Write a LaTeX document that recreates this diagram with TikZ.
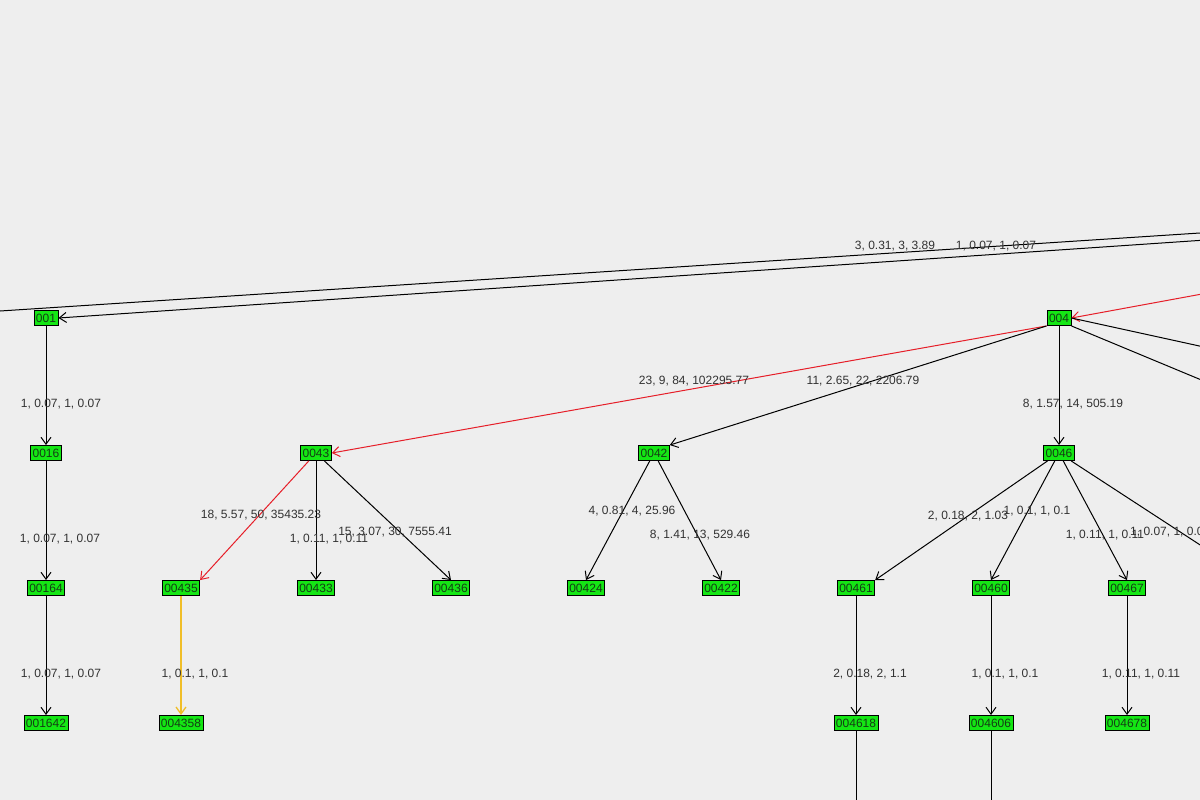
\documentclass[tikz,border=0pt]{standalone}
\usepackage{fontspec}
\setmainfont{Liberation Sans}
\usetikzlibrary{arrows.meta}
\definecolor{bg}{RGB}{238,238,238}
\definecolor{nodegreen}{RGB}{20,230,20}
\definecolor{edgered}{RGB}{230,30,40}
\definecolor{edgeyellow}{RGB}{240,190,40}
\definecolor{lbl}{RGB}{50,50,50}
\definecolor{ntext}{RGB}{20,60,20}
\begin{document}
\begin{tikzpicture}[x=1pt,y=-1pt,
  nd/.style={draw=black,line width=0.9pt,fill=nodegreen,inner xsep=2pt,inner ysep=0pt,minimum height=15pt,font=\fontsize{12}{12}\selectfont,text=ntext},
  ed/.style={draw=black,line width=1pt,-{Straight Barb[length=7pt,width=10pt]}},
  redge/.style={draw=edgered},
  yedge/.style={draw=edgeyellow,line width=1.3pt},
  pl/.style={draw=black,line width=1pt},
  lb/.style={font=\fontsize{12}{12}\selectfont,text=lbl,inner sep=0pt}]
\fill[bg] (0,0) rectangle (1200,800);
\useasboundingbox (0,0) rectangle (1200,800);
\clip (0,0) rectangle (1200,800);
% nodes
\node[nd] (n001) at (46,318) {001};
\node[nd] (n004) at (1059,318) {004};
\node[nd] (n0016) at (46,453) {0016};
\node[nd] (n0043) at (316,453) {0043};
\node[nd] (n0042) at (654,453) {0042};
\node[nd] (n0046) at (1059,453) {0046};
\node[nd] (n00164) at (46,588) {00164};
\node[nd] (n00435) at (181,588) {00435};
\node[nd] (n00433) at (316,588) {00433};
\node[nd] (n00436) at (451,588) {00436};
\node[nd] (n00424) at (586,588) {00424};
\node[nd] (n00422) at (721,588) {00422};
\node[nd] (n00461) at (856,588) {00461};
\node[nd] (n00460) at (991,588) {00460};
\node[nd] (n00467) at (1127,588) {00467};
\node[nd] (n001642) at (46,723) {001642};
\node[nd] (n004358) at (181,723) {004358};
\node[nd] (n004618) at (856,723) {004618};
\node[nd] (n004606) at (991,723) {004606};
\node[nd] (n004678) at (1127,723) {004678};
% off-screen coordinates
\coordinate (offA) at (-100,317.5);
\coordinate (offB) at (1300,226.5);
\coordinate (offC) at (1300,233.6);
\coordinate (offD) at (1300,276);
\coordinate (offE) at (1300,368);
\coordinate (offF) at (1300,421);
\coordinate (offG) at (1300,610);
\coordinate (offH) at (856,820);
\coordinate (offI) at (991,820);
% long edges
\draw[pl] (offA) -- (offB);
\draw[ed] (offC) -- (n001.east);
\draw[ed,redge] (offD) -- (n004.east);
\draw[pl] (n004.east) -- (offE);
\draw[pl] (n004.south east) -- (offF);
\node[lb] at (895,246) {3, 0.31, 3, 3.89};
\node[lb] at (996,246) {1, 0.07, 1, 0.07};
% edges
\draw[ed,redge] (n004.south west) -- (n0043.east);
\draw[ed] (n004.south west) -- (n0042.north east);
\draw[ed] (n004) -- (n0046);
\node[lb] at (694,381) {23, 9, 84, 102295.77};
\node[lb] at (863,381) {11, 2.65, 22, 2206.79};
\node[lb] at (1073,404) {8, 1.57, 14, 505.19};
\draw[ed] (n001) -- (n0016);
\draw[ed] (n0016) -- (n00164);
\draw[ed] (n00164) -- (n001642);
\node[lb] at (61,404) {1, 0.07, 1, 0.07};
\node[lb] at (60,539) {1, 0.07, 1, 0.07};
\node[lb] at (61,674) {1, 0.07, 1, 0.07};
\draw[ed,redge] (n0043) -- (n00435.north east);
\draw[ed] (n0043) -- (n00433);
\draw[ed] (n0043) -- (n00436.north);
\node[lb] at (261,515) {18, 5.57, 50, 35435.23};
\node[lb] at (329,539) {1, 0.11, 1, 0.11};
\node[lb] at (395,532) {15, 3.07, 30, 7555.41};
\draw[ed] (n0042) -- (n00424.north);
\draw[ed] (n0042) -- (n00422.north);
\node[lb] at (632,511) {4, 0.81, 4, 25.96};
\node[lb] at (700,535) {8, 1.41, 13, 529.46};
\draw[ed] (n0046) -- (n00461.north east);
\draw[ed] (n0046) -- (n00460.north);
\draw[ed] (n0046) -- (n00467.north);
\draw[pl] (n0046) -- (offG);
\node[lb] at (968,516) {2, 0.18, 2, 1.03};
\node[lb] at (1037,511) {1, 0.1, 1, 0.1};
\node[lb] at (1105,535) {1, 0.11, 1, 0.11};
\node[lb,anchor=west] at (1130,532) {1, 0.07, 1, 0.07};
\draw[ed,yedge] (n00435) -- (n004358);
\node[lb] at (195,674) {1, 0.1, 1, 0.1};
\draw[ed] (n00461) -- (n004618);
\draw[ed] (n00460) -- (n004606);
\draw[ed] (n00467) -- (n004678);
\node[lb] at (870,674) {2, 0.18, 2, 1.1};
\node[lb] at (1005,674) {1, 0.1, 1, 0.1};
\node[lb] at (1141,674) {1, 0.11, 1, 0.11};
\draw[pl] (n004618) -- (offH);
\draw[pl] (n004606) -- (offI);
\end{tikzpicture}
\end{document}
